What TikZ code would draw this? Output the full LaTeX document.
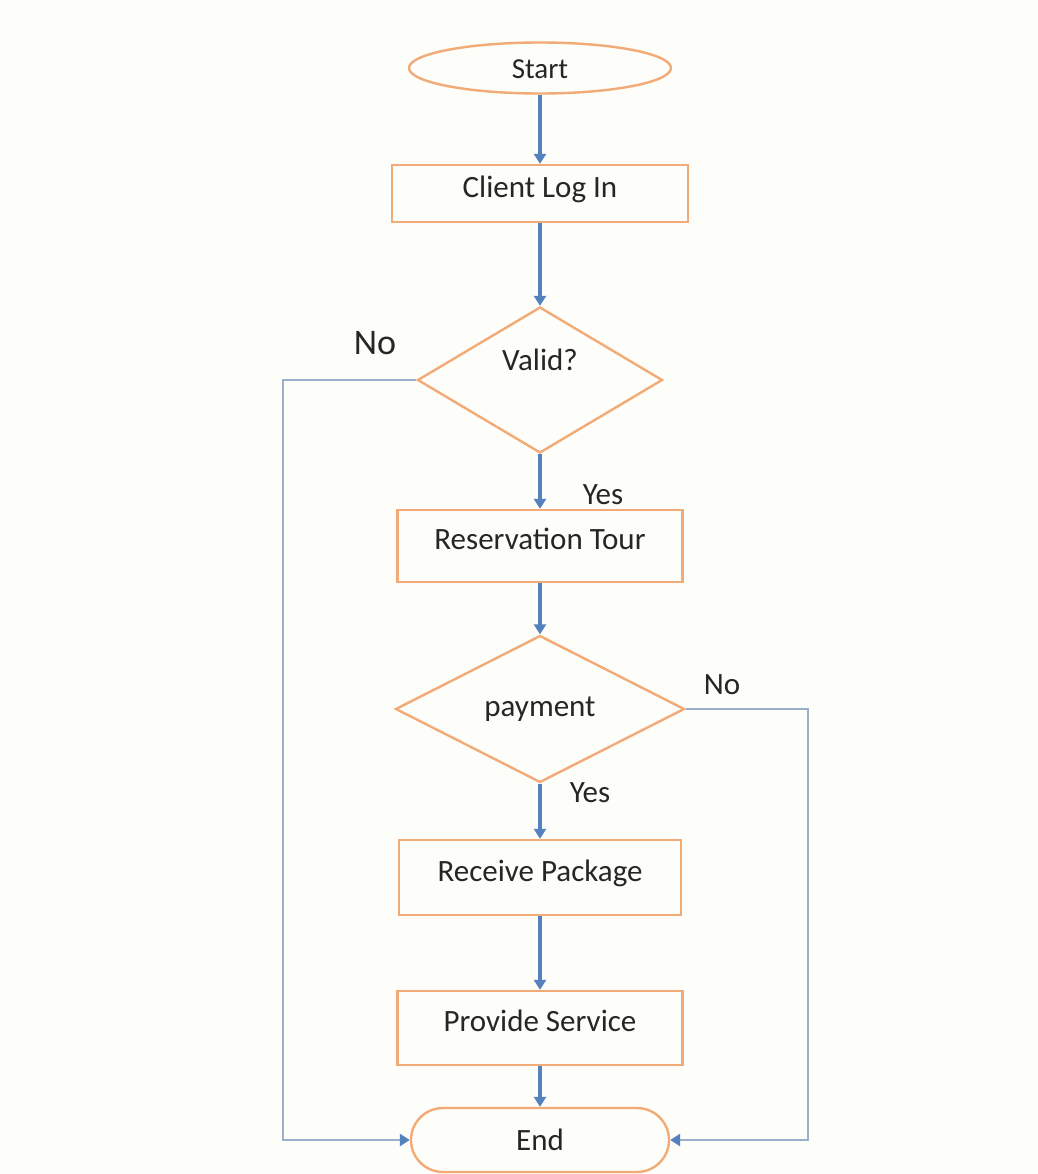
\documentclass[tikz,border=0pt]{standalone}
\usepackage{fontspec}
\setmainfont{Carlito}
\usetikzlibrary{shapes.geometric,arrows.meta}
\definecolor{boxorange}{RGB}{242,170,118}
\definecolor{flowblue}{RGB}{84,130,190}
\definecolor{railgray}{RGB}{155,174,202}
\definecolor{paper}{RGB}{253,253,250}
\definecolor{inkgray}{RGB}{38,38,38}

\begin{document}
\begin{tikzpicture}[x=0.5pt,y=-0.5pt,
    every node/.style={font=\fontsize{15.5pt}{18pt}\selectfont,text=inkgray},
    stepbox/.style={draw=boxorange,line width=1.2pt,rectangle,inner sep=0pt,text height=10pt,text depth=6.5pt},
    decision/.style={draw=boxorange,line width=1.2pt,diamond,inner sep=0pt},
    terminal/.style={draw=boxorange,line width=1.2pt,inner sep=0pt,text height=10pt,text depth=0pt},
    flow/.style={draw=flowblue,line width=1.6pt,-{Triangle[length=5pt,width=6pt]}},
    rail/.style={draw=railgray,line width=1.4pt,-{Triangle[length=5pt,width=6pt,color=flowblue,fill=flowblue]}},
    answer/.style={inner sep=0pt}]
            \fill[paper] (0,0) rectangle (1038,1174);
            \node (start) at (540,68) [terminal,ellipse,minimum width=131pt,minimum height=25.5pt,font=\fontsize{14.5pt}{17pt}\selectfont] {Start};
            \node (login) at (540,193.5) [stepbox,minimum width=148pt,minimum height=28.5pt] {Client Log In};
            \node (valid) at (540,380) [decision,minimum width=122.5pt,minimum height=73pt,text height=10pt,text depth=19.5pt] {Valid?};
            \node (reserve) at (540,546) [stepbox,minimum width=142.5pt,minimum height=36pt] {Reservation Tour};
            \node (pay) at (540,709) [decision,minimum width=144.5pt,minimum height=73.5pt,text height=10pt,text depth=2.8pt] {payment};
            \node (receive) at (540,877.5) [stepbox,minimum width=141pt,minimum height=37.5pt] {Receive Package};
            \node (provide) at (540,1028) [stepbox,minimum width=142.5pt,minimum height=37pt] {Provide Service};
            \node (end) at (540,1140) [terminal,rounded corners=16pt,minimum width=129pt,minimum height=32pt] {End};
            \node (no1) at (375,343) [answer,font=\fontsize{18pt}{21pt}\selectfont] {No};
            \node (yes1) at (603,495) [answer] {Yes};
            \node (no2) at (722,685) [answer] {No};
            \node (yes2) at (590,793) [answer] {Yes};
            \coordinate (leftrail) at (283,380);
            \coordinate (rightrail) at (808,709);
            \draw[flow] (start) -- (login);
            \draw[flow] (login) -- (valid);
            \draw[flow] (valid) -- (reserve);
            \draw[flow] (reserve) -- (pay);
            \draw[flow] (pay) -- (receive);
            \draw[flow] (receive) -- (provide);
            \draw[flow] (provide) -- (end);
            \draw[rail] (valid.west) -- (leftrail) |- (end.west);
            \draw[rail] (pay.east) -- (rightrail) |- (end.east);
        \end{tikzpicture}
\end{document}
